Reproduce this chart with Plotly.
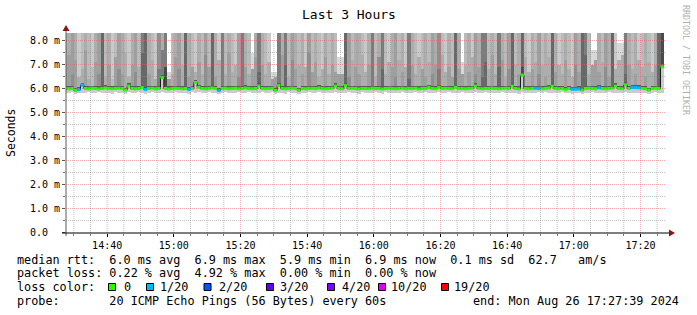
import pandas as pd
import plotly.graph_objects as go

# ---------------- data ----------------
end_label = "2024-08-26 17:27:39"
col_end = pd.date_range("2024-08-26 14:28:00", periods=180, freq="min")

median = [
    6.00,5.99,6.00,5.92,5.95,6.14,6.00,5.99,6.01,6.00,
    5.98,6.00,6.02,6.00,5.99,6.00,6.01,6.00,5.93,6.10,
    6.00,5.99,6.00,6.04,5.96,6.00,6.01,5.99,6.00,6.45,
    6.00,5.98,6.00,6.01,6.00,5.99,6.00,5.96,6.00,6.25,
    6.05,6.00,5.99,6.00,6.02,6.00,5.92,6.00,6.01,5.99,
    6.00,6.01,5.99,6.00,6.02,6.00,5.99,6.00,6.10,6.00,
    5.99,6.00,6.01,5.92,6.12,6.00,5.99,6.00,6.01,6.00,
    5.92,6.00,5.99,6.00,6.01,6.00,6.02,6.00,5.99,6.00,
    6.01,6.10,6.00,5.99,6.12,6.00,6.01,6.00,5.98,6.00,
    6.00,5.99,6.01,6.00,6.00,5.98,6.00,6.01,6.00,5.99,
    6.00,6.01,5.99,6.00,6.00,6.01,5.98,6.00,6.00,6.05,
    6.00,5.99,6.05,6.00,6.01,6.00,5.99,6.05,6.00,6.00,
    5.99,6.00,6.01,6.10,6.00,5.99,6.00,6.00,6.01,6.00,
    5.99,6.00,6.01,6.00,6.10,6.00,5.98,6.55,6.00,5.99,
    6.00,6.01,6.00,5.99,6.00,6.02,6.10,6.00,5.99,6.00,
    5.95,6.00,5.97,5.97,5.98,5.93,6.00,6.01,6.00,5.99,
    6.03,6.00,5.99,6.00,6.01,6.10,6.00,5.99,6.15,6.00,
    6.04,6.04,6.03,6.00,5.99,5.93,6.00,6.01,6.00,6.90,
]

loss = [0]*180
for j in [4,5,24,37,46,141,142,152,153,154,160,170,171,172]:
    loss[j] = 1

smoke_min = [
    5.82,5.80,5.84,5.78,5.80,5.83,5.81,5.85,5.80,5.82,
    5.84,5.80,5.83,5.81,5.79,5.84,5.82,5.80,5.78,5.85,
    5.82,5.80,5.84,5.83,5.79,5.82,5.85,5.81,5.80,5.84,
    5.82,5.80,5.83,5.85,5.81,5.82,5.80,5.78,5.84,5.83,
    5.85,5.82,5.80,5.84,5.81,5.83,5.78,5.82,5.85,5.80,
    5.83,5.81,5.84,5.80,5.82,5.85,5.81,5.83,5.80,5.84,
    5.82,5.80,5.85,5.78,5.83,5.81,5.79,5.84,5.82,5.80,
    5.78,5.83,5.81,5.85,5.80,5.82,5.84,5.81,5.83,5.80,
    5.82,5.84,5.80,5.81,5.83,5.85,5.80,5.82,5.79,5.84,
    5.81,5.83,5.80,5.85,5.82,5.79,5.84,5.81,5.83,5.80,
    5.82,5.84,5.81,5.80,5.83,5.85,5.80,5.82,5.84,5.81,
    5.83,5.80,5.84,5.82,5.81,5.85,5.80,5.83,5.82,5.84,
    5.81,5.83,5.80,5.84,5.82,5.80,5.85,5.81,5.83,5.82,
    5.80,5.84,5.82,5.81,5.83,5.80,5.79,5.84,5.82,5.81,
    5.83,5.80,5.84,5.82,5.85,5.81,5.83,5.80,5.82,5.84,
    5.80,5.82,5.79,5.81,5.80,5.78,5.83,5.82,5.84,5.81,
    5.83,5.80,5.82,5.84,5.81,5.83,5.80,5.82,5.84,5.81,
    5.80,5.81,5.82,5.83,5.80,5.78,5.82,5.84,5.81,5.83,
]

split = [
    7.0,7.4,6.6,7.2,6.5,6.8,7.6,6.4,6.9,7.1,
    6.6,7.8,6.5,7.0,6.4,7.3,6.8,6.6,7.5,6.5,
    7.0,6.7,6.9,7.5,7.0,6.6,7.2,6.4,6.8,7.6,
    6.9,6.4,6.6,7.3,6.8,7.0,7.4,6.5,6.9,6.7,
    7.1,6.6,7.4,6.9,7.0,6.5,7.2,6.8,6.6,7.5,
    6.7,7.0,6.5,7.2,6.9,6.6,6.8,7.3,6.7,7.0,
    6.6,7.1,6.4,6.5,6.9,7.4,7.0,6.5,7.2,6.8,
    7.0,6.6,6.9,7.5,6.7,7.1,6.5,6.8,7.3,6.6,
    7.0,6.7,6.6,6.6,7.0,6.5,7.2,6.9,6.6,7.4,
    6.7,7.0,6.9,6.5,7.3,6.8,6.6,7.1,6.9,6.5,
    7.2,6.7,6.9,6.4,7.0,6.6,7.3,6.8,6.5,7.1,
    6.6,7.0,6.8,7.4,6.7,6.9,6.5,7.2,6.8,6.6,
    7.0,6.7,7.3,6.6,6.9,6.5,7.1,6.8,7.4,6.6,
    6.9,7.2,6.5,6.8,6.9,7.0,6.6,6.9,7.3,6.7,
    6.8,7.1,6.6,7.0,6.5,7.3,6.9,6.7,7.0,6.6,
    7.2,6.8,6.5,7.0,6.7,6.9,7.4,6.6,7.0,7.2,
    6.7,7.1,6.9,6.5,7.0,6.8,7.2,7.4,6.6,7.0,
    6.8,6.6,7.2,6.9,6.5,7.1,6.7,7.0,6.9,7.3,
]

smoke_max = [8.4]*180
for j, v in {31:6.7, 56:7.5, 62:6.7, 63:6.7, 82:7.3, 83:7.3, 119:7.1,
             158:7.6, 159:7.6, 166:7.9, 167:7.9}.items():
    smoke_max[j] = v

# shade index (0 = lightest ... 8 = darkest) of the upper and lower smoke
shade_top = [
    3,3,4,3,1,2,3,2,1,3, 4,7,2,3,1,2,4,3,2,1, 3,4,2,6,7,3,2,1,5,3,
    6,0,2,3,4,2,7,3,2,1, 3,2,4,2,7,3,1,6,2,3, 2,1,4,6,3,2,0,3,6,3,
    2,1,0,0,6,3,6,2,4,3, 2,3,1,4,2,3,2,1,3,2, 3,2,0,0,7,4,2,3,3,2,
    1,3,6,2,3,6,2,1,3,4, 2,3,1,6,3,2,1,2,3,2, 4,3,5,2,1,3,2,7,3,0,
    2,3,1,4,3,6,6,2,3,2, 6,3,2,4,7,2,3,7,2,1, 3,2,4,2,3,2,7,3,1,2,
    3,2,1,4,3,7,6,2,0,0, 3,2,4,3,7,1,0,0,6,3, 2,3,1,2,3,2,1,3,7,8,
]
shade_low = [
    4,4,5,4,3,3,4,3,2,4, 5,7,3,4,2,4,5,4,3,3, 4,5,3,7,7,4,3,3,6,6,
    8,4,3,4,5,3,7,4,4,3, 4,3,5,4,7,4,3,6,3,4, 3,3,5,6,4,3,4,4,7,4,
    3,3,4,4,6,4,7,3,5,4, 3,4,3,5,4,4,3,3,4,3, 4,4,4,4,7,5,3,4,4,3,
    3,4,6,3,5,7,3,3,4,5, 3,4,3,7,4,3,3,4,4,3, 5,4,6,3,3,4,4,7,4,4,
    3,4,3,5,4,7,7,3,4,3, 7,4,3,5,7,3,4,8,3,3, 4,3,5,3,4,3,7,4,3,3,
    4,3,3,5,4,7,7,3,4,4, 4,3,5,4,7,3,3,3,7,4, 3,4,3,3,4,3,3,4,7,8,
]

y_tick_vals = [0, 1, 2, 3, 4, 5, 6, 7, 8]
y_tick_text = ["0.0\u00a0\u00a0", "1.0 m", "2.0 m", "3.0 m", "4.0 m",
               "5.0 m", "6.0 m", "7.0 m", "8.0 m"]

loss_labels = ["0", "1/20", "2/20", "3/20", "4/20", "10/20", "19/20"]
loss_colors = ["#26ff00", "#00b8ff", "#0059ff", "#5e00ff", "#7e00ff", "#dd00ff", "#ff0000"]

legend_lines = [
    "median rtt:  6.0 ms avg  6.9 ms max  5.9 ms min  6.9 ms now  0.1 ms sd  62.7   am/s",
    "packet loss: 0.22 % avg  4.92 % max  0.00 % min  0.00 % now",
]
probe_text = "probe:       20 ICMP Echo Pings (56 Bytes) every 60s"
end_text = "end: Mon Aug 26 17:27:39 2024"

# ---------------- styling ----------------
GRAY = [216, 201, 187, 173, 159, 143, 124, 104, 74]
MONO = "DejaVu Sans Mono"
W, H = 697, 315
L, R, T, B = 66, 666, 33, 233
PX_PER_MS = 24.0


def gcol(d):
    v = GRAY[d]
    return f"rgb({v},{v},{v})"


def px(x):
    return (x - L) / (R - L)


def py(y):
    return (B - y) / (B - T)


end_ts = pd.Timestamp(end_label)
start_ts = end_ts - pd.Timedelta(hours=3)
col_center = col_end - pd.Timedelta(seconds=30)
col_start = col_end - pd.Timedelta(seconds=60)
y_top = (B - T - 0.5) / PX_PER_MS

fig = go.Figure()
bw = 60000

# smoke below median
fig.add_bar(x=col_center, base=smoke_min,
            y=[m - s for m, s in zip(median, smoke_min)], width=bw,
            marker=dict(color="rgb(204,204,204)", line_width=0))
# lower smoke
fig.add_bar(x=col_center, base=median,
            y=[s - m for s, m in zip(split, median)], width=bw,
            marker=dict(color=[gcol(d) for d in shade_low], line_width=0))
# upper smoke
fig.add_bar(x=col_center, base=split,
            y=[mx - s for mx, s in zip(smoke_max, split)], width=bw,
            marker=dict(color=[gcol(d) for d in shade_top], line_width=0))
# dark core right above median
fig.add_bar(x=col_center, base=median, y=[0.11]*180, width=bw,
            marker=dict(color="rgb(90,90,90)", line_width=0))

# grid (drawn over the smoke, under the median line)
minor_c = "rgba(140,140,140,0.55)"
major_c = "rgba(225,100,100,0.55)"
for k in range(1, 17):
    v = k * 0.5
    fig.add_scatter(x=[start_ts, end_ts], y=[v, v], mode="lines", hoverinfo="skip",
                    line=dict(color=major_c if k % 2 == 0 else minor_c, width=1,
                              dash="1px,1px"))
for t in pd.date_range("2024-08-26 14:30", "2024-08-26 17:25", freq="5min"):
    major = (t.minute % 20 == 0)
    fig.add_scatter(x=[t, t], y=[-0.02, y_top], mode="lines", hoverinfo="skip",
                    line=dict(color=major_c if major else minor_c, width=1,
                              dash="1px,1px"))

# median step line (dark risers)
fig.add_scatter(x=list(col_start) + [col_end[-1]], y=median + [median[-1]],
                mode="lines", line=dict(color="rgb(25,25,25)", width=1, shape="hv"),
                hoverinfo="skip")
# median segments coloured by loss
for lvl in sorted(set(loss)):
    xs, ys = [], []
    for j in range(180):
        if loss[j] == lvl:
            xs += [col_start[j], col_end[j], None]
            ys += [median[j], median[j], None]
    fig.add_scatter(x=xs, y=ys, mode="lines", hoverinfo="skip",
                    line=dict(color=loss_colors[lvl], width=3))

shapes = []
# axes
shapes.append(dict(type="line", xref="paper", yref="paper", x0=0, x1=0,
                   y0=py(236), y1=py(30), line=dict(color="rgb(90,90,90)", width=1),
                   layer="above"))
shapes.append(dict(type="line", xref="paper", yref="paper", x0=px(62), x1=px(670),
                   y0=0, y1=0, line=dict(color="black", width=1), layer="above"))
# arrow heads
shapes.append(dict(type="path", xref="paper", yref="paper", xsizemode="pixel",
                   ysizemode="pixel", xanchor=0, yanchor=1,
                   path="M -3.5,2 L 3.5,2 L 0,8 Z", fillcolor="rgb(140,20,20)",
                   line=dict(width=0), layer="above"))
shapes.append(dict(type="path", xref="paper", yref="paper", xsizemode="pixel",
                   ysizemode="pixel", xanchor=px(669), yanchor=0,
                   path="M 0,-3.5 L 0,3.5 L 6,0 Z", fillcolor="rgb(140,20,20)",
                   line=dict(width=0), layer="above"))

# legend squares
sq_left = [108.5, 146.5, 204, 266.5, 327.5, 378.5, 441.5]
lbl_left = [122.5, 159.3, 217.7, 279.3, 341.0, 390.0, 452.7]
for xl, c in zip(sq_left, loss_colors):
    shapes.append(dict(type="rect", xref="paper", yref="paper",
                       x0=px(xl), x1=px(xl + 7), y0=py(290.5), y1=py(283.5),
                       fillcolor=c, line=dict(color="black", width=1)))

ann = []
def text(x, y, s, size=11.8, anchor="left", color="black", angle=0, family=MONO):
    ann.append(dict(x=px(x), y=py(y), xref="paper", yref="paper", text=s.replace(" ", "\u00a0"),
                    showarrow=False, xanchor=anchor, yanchor="middle", borderpad=0,
                    textangle=angle, font=dict(family=family, size=size, color=color)))

text(348.5, 14, "Last 3 Hours", size=13, anchor="center")
text(11, 133, "Seconds", size=11.5, anchor="center", angle=-90)
text(686, 60, "RRDTOOL / TOBI OETIKER", size=8.3, anchor="center",
     color="rgb(175,175,175)", angle=90)
text(16, 259.5, legend_lines[0])
text(16, 273.3, legend_lines[1])
text(16, 287.3, "loss color:")
for xl, lab in zip(lbl_left, loss_labels):
    text(xl, 287.3, lab)
text(16, 301, probe_text)
text(680, 301, end_text, anchor="right")

fig.update_layout(
    template="none", width=W, height=H,
    margin=dict(l=L, r=W - R, t=T, b=H - B, pad=0),
    paper_bgcolor="white", plot_bgcolor="white",
    showlegend=False, barmode="overlay", bargap=0,
    shapes=shapes, annotations=ann,
    xaxis=dict(type="date", range=[start_ts, end_ts], tickformat="%H:%M",
               tick0="2024-08-26 00:00", dtick=20*60*1000,
               ticks="outside", ticklen=3, tickcolor="black", tickwidth=1,
               showgrid=False, zeroline=False, showline=False,
               tickfont=dict(family=MONO, size=10, color="black"),
               minor=dict(dtick=5*60*1000, ticks="outside", ticklen=2,
                          tickcolor="rgb(120,120,120)", showgrid=False)),
    yaxis=dict(range=[-0.5/PX_PER_MS, y_top],
               tickvals=y_tick_vals, ticktext=y_tick_text,
               ticks="outside", ticklen=3, tickcolor="rgb(90,90,90)", tickwidth=1,
               showgrid=False, zeroline=False, showline=False,
               tickfont=dict(family=MONO, size=10, color="black"),
               minor=dict(dtick=0.5, ticks="outside", ticklen=2,
                          tickcolor="rgb(120,120,120)", showgrid=False)),
)

fig.write_html("out.html")
